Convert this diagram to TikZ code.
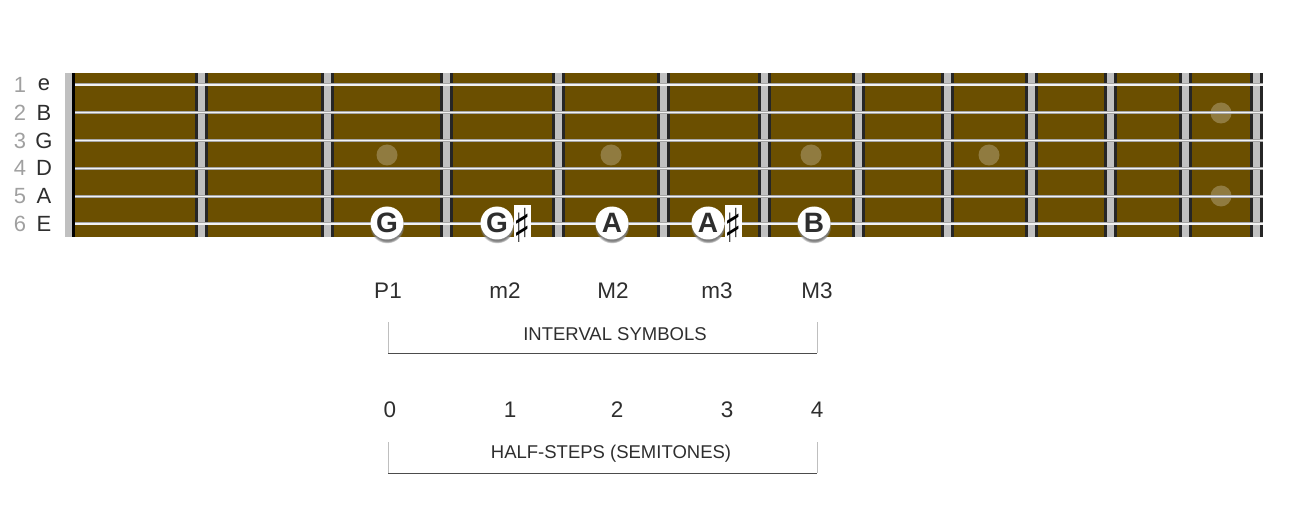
\documentclass[tikz,border=0pt]{standalone}
\usepackage{fontspec}
\setmainfont{Liberation Sans}
\newfontfamily\symfont{DejaVu Sans}
\usepackage{tikz}
\usetikzlibrary{positioning, shadows}

\definecolor{boardbrown}{HTML}{6B4F00}
\definecolor{fretgray}{HTML}{C0C0C0}
\definecolor{inkdark}{HTML}{2E2E2E}
\definecolor{numgray}{HTML}{A0A0A0}

\begin{document}
\begin{tikzpicture}[x=1pt, y=-1pt,
    note/.style={circle, fill=white, text=inkdark, inner sep=0pt, minimum size=33pt,
        font=\fontsize{28}{28}\selectfont\bfseries,
        circular drop shadow={shadow xshift=0pt, shadow yshift=-3pt, shadow scale=1.05}},
    sharpbox/.style={fill=white, inner sep=0pt, minimum width=16pt, minimum height=40pt,
        font=\symfont\fontsize{36}{36}\selectfont},
    strlabel/.style={text=inkdark, font=\fontsize{22}{22}\selectfont},
    ilabel/.style={text=inkdark, font=\fontsize{22.5}{22.5}\selectfont},
    brtext/.style={text=inkdark, font=\fontsize{18.5}{18.5}\selectfont},
    brside/.style={draw=black!25, line width=1pt},
    brbase/.style={draw=black!70, line width=1pt},
    inlay/.style={fill=white, fill opacity=0.25}
]
\useasboundingbox (0,0) rectangle (1292,529);

% Fretboard
\fill[boardbrown] (72,73) rectangle (1263,237);
\fill[fretgray] (65,73) rectangle (72,237);
\fill[black] (72,73) rectangle (75,237);

% Inlays
\foreach \ix/\iy in {387/155, 611/155, 811/155, 989/155, 1221/113, 1221/196}
  \fill[inlay] (\ix,\iy) circle (10.5);

% Frets
\foreach \n in {1,...,12}{
  \pgfmathsetmacro\fx{68.5+2376*(1-pow(2,-\n/12))}
  \fill[black!85] (\fx-6.5,73) rectangle (\fx+6.5,237);
  \fill[fretgray] (\fx-3.5,73) rectangle (\fx+3.5,237);
}

% Strings and labels
\foreach \i/\sname in {1/e, 2/B, 3/G, 4/D, 5/A, 6/E}{
  \pgfmathsetmacro\sy{85+27.8*(\i-1)}
  \draw[line width=3pt, black!35] (75,\sy) -- (1263,\sy);
  \draw[line width=1.2pt, black!5] (75,\sy) -- (1263,\sy);
  \node[strlabel, text=numgray] (num\i) at (20,\sy) {\i};
  \node[strlabel] (str\i) at (44,\sy) {\sname};
}

% Notes
\node[note] (noteG) at (387,223) {G};
\node[note] (noteGs) at (497,223) {G};
\node[sharpbox, right=0pt of noteGs, yshift=-2pt] (sharpG) {\scalebox{1}[1.3]{♯}};
\node[note] (noteA) at (612,223) {A};
\node[note] (noteAs) at (708,223) {A};
\node[sharpbox, right=0pt of noteAs, yshift=-2pt] (sharpA) {\scalebox{1}[1.3]{♯}};
\node[note] (noteB) at (814,223) {B};

% Interval symbols
\node[ilabel] (ivP1) at (388,291) {P1};
\node[ilabel] (ivm2) at (505,291) {m2};
\node[ilabel] (ivM2) at (613,291) {M2};
\node[ilabel] (ivm3) at (717,291) {m3};
\node[ilabel] (ivM3) at (817,291) {M3};

\coordinate (ivL) at (388,322);
\coordinate (ivR) at (817,322);
\coordinate (ivLb) at (388,353);
\coordinate (ivRb) at (817,353);
\draw[brside] (ivL) -- (ivLb);
\draw[brside] (ivR) -- (ivRb);
\draw[brbase] (ivLb) -- (ivRb);
\node[brtext] (ivtext) at (615,334) {INTERVAL SYMBOLS};

% Half-steps
\node[ilabel] (hs0) at (390,410) {0};
\node[ilabel] (hs1) at (510,410) {1};
\node[ilabel] (hs2) at (617,410) {2};
\node[ilabel] (hs3) at (727,410) {3};
\node[ilabel] (hs4) at (817,410) {4};

\coordinate (hsL) at (388,442);
\coordinate (hsR) at (817,442);
\coordinate (hsLb) at (388,473);
\coordinate (hsRb) at (817,473);
\draw[brside] (hsL) -- (hsLb);
\draw[brside] (hsR) -- (hsRb);
\draw[brbase] (hsLb) -- (hsRb);
\node[brtext] (hstext) at (611,454) {HALF-STEPS (SEMITONES)};
\end{tikzpicture}
\end{document}
